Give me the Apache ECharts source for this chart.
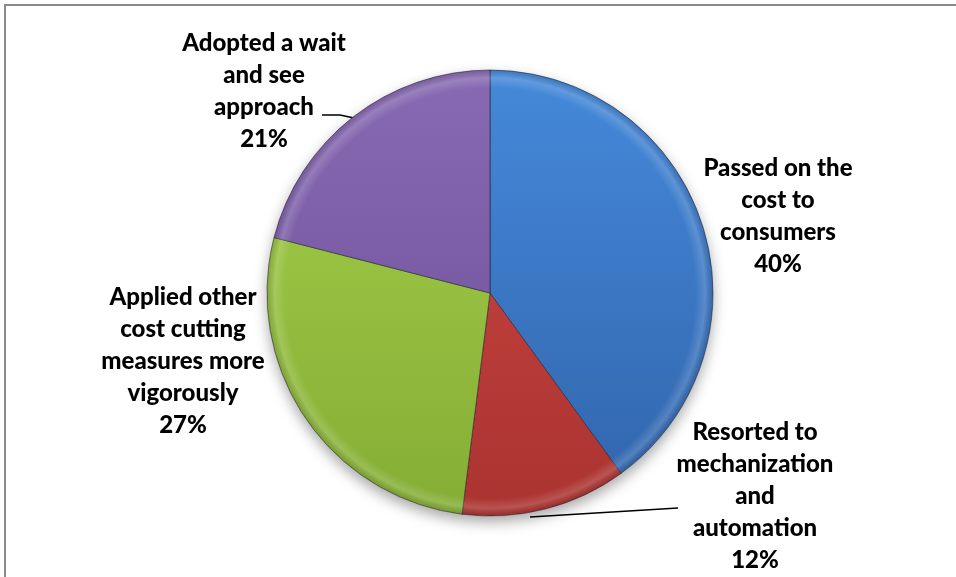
<!DOCTYPE html>
<html>
<head>
<meta charset="utf-8">
<script src="https://cdn.jsdelivr.net/npm/echarts@6/dist/echarts.min.js"></script>
<style>
  html, body { margin: 0; padding: 0; background: #ffffff; }
  #chart { width: 956px; height: 577px; }
</style>
</head>
<body>
<div id="chart"></div>
<script>
// Responses to rising costs (share of respondents, %)
const categories = [
  'Passed on the\ncost to\nconsumers',
  'Resorted to\nmechanization\nand\nautomation',
  'Applied other\ncost cutting\nmeasures more\nvigorously',
  'Adopted a wait\nand see\napproach'
];
const shares = [40, 12, 27, 21];

// top / bottom shade of each slice
const sliceColors = [
  ['#4589da', '#3164ab'],
  ['#cf4844', '#aa3330'],
  ['#a6d04a', '#84ad35'],
  ['#886ab3', '#6a4d96']
];

const CX = 490, CY = 293, R = 223;

// label block centres and leader-line paths
const labelSpots = [[778, 216], [755, 496], [183, 361], [264, 91]];
const guidePaths = [
  null,
  [[678, 508], [530, 517]],
  null,
  [[322, 115], [340, 115], [354, 118]]
];

function shade(pair) {
  return {
    type: 'linear', global: true,
    x: 0, y: CY - R, x2: 0, y2: CY + R,
    colorStops: [{ offset: 0, color: pair[0] }, { offset: 1, color: pair[1] }]
  };
}

const chart = echarts.init(document.getElementById('chart'), null, { renderer: 'canvas' });

chart.setOption({
  backgroundColor: '#ffffff',
  animation: false,
  graphic: [{
    type: 'rect', silent: true, z: -10,
    shape: { x: 5, y: 5, width: 1400, height: 1400 },
    style: { fill: 'none', stroke: '#8a8a8a', lineWidth: 2 }
  }],
  series: [
    {
      // soft drop shadow beneath the disc
      type: 'pie', silent: true, z: 1,
      center: [CX, CY], radius: R,
      label: { show: false }, labelLine: { show: false },
      emphasis: { disabled: true },
      data: [{ value: 1, itemStyle: { color: '#ffffff', shadowBlur: 14, shadowOffsetY: 6, shadowColor: 'rgba(0,0,0,0.35)' } }]
    },
    {
      type: 'pie', z: 2,
      center: [CX, CY], radius: R,
      startAngle: 90, clockwise: true,
      emphasis: { disabled: true },
      itemStyle: { borderColor: 'rgba(30,30,50,0.55)', borderWidth: 1 },
      label: {
        show: true,
        formatter: p => p.name + '\n' + p.value + '%',
        fontFamily: 'Lato', fontWeight: 900, fontSize: 24,
        lineHeight: 32, color: '#000000', align: 'center'
      },
      labelLine: { show: true, lineStyle: { color: '#000000', width: 1.5 }, smooth: false },
      labelLayout: function (p) {
        const s = labelSpots[p.dataIndex];
        const out = { x: s[0], y: s[1], align: 'center', verticalAlign: 'middle' };
        if (guidePaths[p.dataIndex]) out.labelLinePoints = guidePaths[p.dataIndex];
        return out;
      },
      data: categories.map((name, i) => ({
        name: name,
        value: shares[i],
        itemStyle: { color: shade(sliceColors[i]) },
        labelLine: { show: !!guidePaths[i] }
      }))
    },
    {
      // bevelled rim highlight over the slices
      type: 'pie', silent: true, z: 3,
      center: [CX, CY], radius: R,
      startAngle: 90, clockwise: true,
      emphasis: { disabled: true },
      label: { show: false }, labelLine: { show: false },
      itemStyle: {
        color: {
          type: 'radial', global: true, x: CX, y: CY, r: R,
          colorStops: [
            { offset: 0, color: 'rgba(255,255,255,0)' },
            { offset: 0.92, color: 'rgba(255,255,255,0)' },
            { offset: 0.965, color: 'rgba(255,255,255,0.16)' },
            { offset: 1, color: 'rgba(0,0,0,0.12)' }
          ]
        }
      },
      data: shares.map(v => ({ value: v }))
    }
  ]
});
</script>
</body>
</html>
